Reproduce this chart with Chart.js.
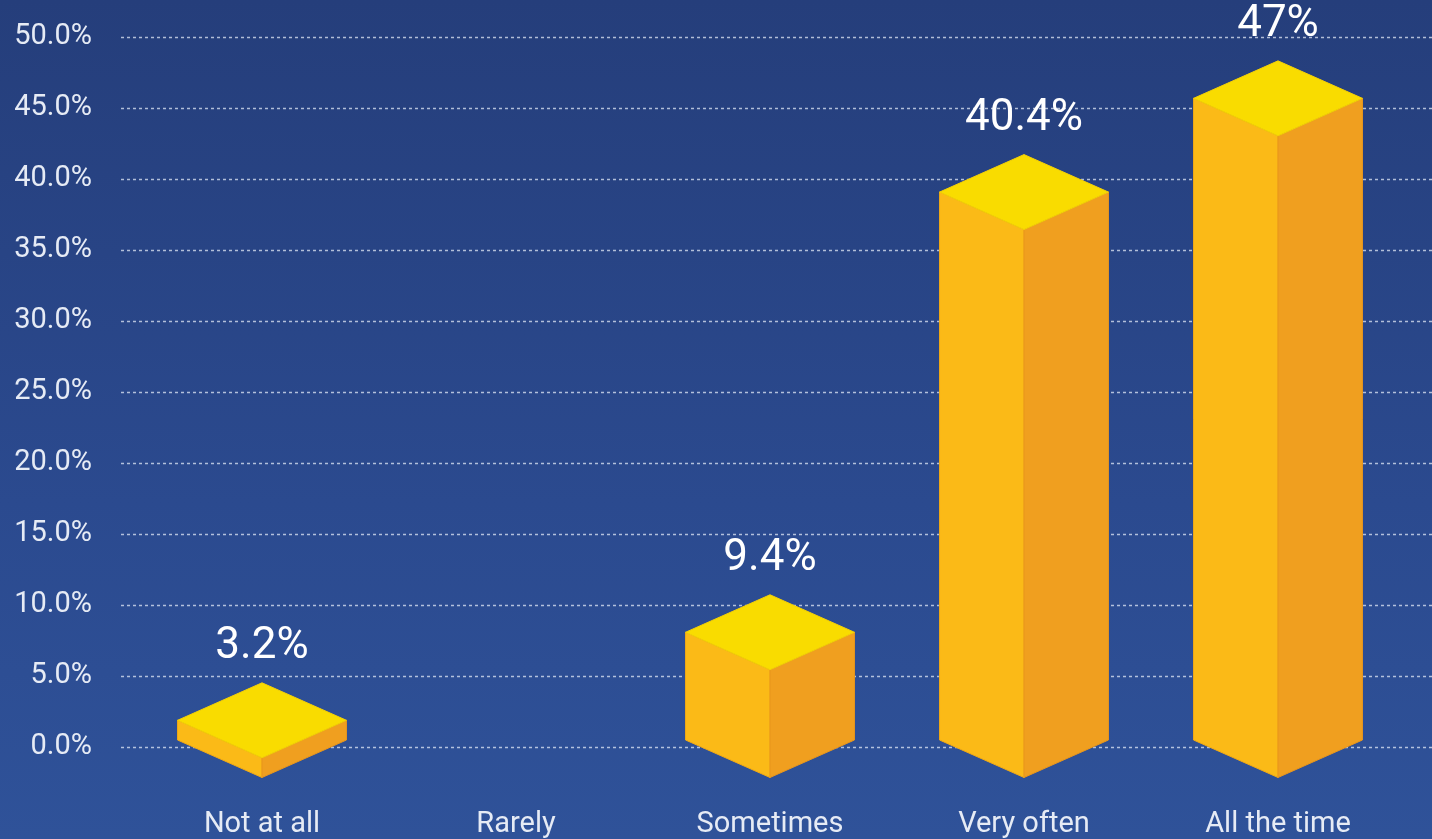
<!DOCTYPE html>
<html>
<head>
<meta charset="utf-8">
<script src="https://cdn.jsdelivr.net/npm/chart.js@4"></script>
<style>
    html, body {
        margin: 0;
        padding: 0;
        width: 1432px;
        height: 839px;
        overflow: hidden;
        background: linear-gradient(to bottom, #253e7b 0%, #2b4a8f 60%, #2f5299 100%);
    }
    canvas { display: block; }
</style>
</head>
<body>
<canvas id="chart" width="1432" height="839"></canvas>
<script>
    /* =============================
       DATA
    ============================== */
    const categories = ["Not at all", "Rarely", "Sometimes", "Very often", "All the time"];
    const shares = [3.2, 0, 9.4, 40.4, 47];

    const yMin = 0;
    const yMax = 50;
    const yStep = 5;

    /* =============================
       COLOURS
    ============================== */
    const topColor = "#f9dc00";
    const leftColor = "#fbba17";
    const rightColor = "#f09f1f";
    const textColor = "#e6ebf5";

    /* =============================
       DASHED GRID (runs past the last bar, to the edge)
    ============================== */
    const dashedGrid = {
        id: "dashedGrid",
        beforeDatasetsDraw(chart) {
            const ctx = chart.ctx;
            const y = chart.scales.y;
            ctx.save();
            ctx.strokeStyle = "rgba(225,232,245,0.75)";
            ctx.lineWidth = 1.5;
            ctx.setLineDash([3, 3]);
            y.ticks.forEach(t => {
                const py = Math.round(y.getPixelForValue(t.value)) + 0.5;
                ctx.beginPath();
                ctx.moveTo(121, py);
                ctx.lineTo(chart.width, py);
                ctx.stroke();
            });
            ctx.restore();
        }
    };

    /* =============================
       ISOMETRIC PRISMS + VALUE LABELS
    ============================== */
    const prisms = {
        id: "prisms",
        afterDatasetsDraw(chart) {
            const ctx = chart.ctx;
            const meta = chart.getDatasetMeta(0);
            ctx.save();
            meta.data.forEach((bar, i) => {
                const v = shares[i];
                if (!v) return;

                const cx = bar.x;
                const w = bar.width / 2;
                const h = w * 0.444;
                const topC = bar.y + h / 2;
                const baseC = bar.base - 7;
                if (topC >= baseC) return;

                ctx.lineJoin = "round";
                ctx.lineWidth = 1;

                // left face
                ctx.beginPath();
                ctx.moveTo(cx - w, topC);
                ctx.lineTo(cx, topC + h);
                ctx.lineTo(cx, baseC + h);
                ctx.lineTo(cx - w, baseC);
                ctx.closePath();
                ctx.fillStyle = leftColor;
                ctx.fill();
                ctx.strokeStyle = "#f2aa14";
                ctx.stroke();

                // right face
                ctx.beginPath();
                ctx.moveTo(cx, topC + h);
                ctx.lineTo(cx + w, topC);
                ctx.lineTo(cx + w, baseC);
                ctx.lineTo(cx, baseC + h);
                ctx.closePath();
                ctx.fillStyle = rightColor;
                ctx.fill();
                ctx.strokeStyle = "#e8961c";
                ctx.stroke();

                // top face
                ctx.beginPath();
                ctx.moveTo(cx, topC - h);
                ctx.lineTo(cx + w, topC);
                ctx.lineTo(cx, topC + h);
                ctx.lineTo(cx - w, topC);
                ctx.closePath();
                ctx.fillStyle = topColor;
                ctx.fill();
                ctx.strokeStyle = "#f3cf06";
                ctx.stroke();

                // value label
                ctx.fillStyle = "#ffffff";
                ctx.font = "44px Roboto";
                ctx.textAlign = "center";
                ctx.textBaseline = "middle";
                ctx.fillText(v + "%", cx, topC - h - 36);
            });
            ctx.restore();
        }
    };

    /* =============================
       CHART
    ============================== */
    new Chart(document.getElementById("chart"), {
        type: "bar",
        data: {
            labels: categories,
            datasets: [{
                data: shares,
                backgroundColor: "rgba(0,0,0,0)",
                borderWidth: 0,
                categoryPercentage: 1,
                barPercentage: 0.665
            }]
        },
        options: {
            responsive: false,
            animation: false,
            devicePixelRatio: 1,
            layout: { padding: { top: 37, right: 27, left: 0, bottom: 0 } },
            plugins: {
                legend: { display: false },
                tooltip: { enabled: false }
            },
            scales: {
                x: {
                    grid: { display: false },
                    border: { display: false },
                    ticks: {
                        color: textColor,
                        font: { family: "Roboto", size: 29 },
                        padding: 52,
                        maxRotation: 0
                    },
                    afterFit: s => { s.height = 92; }
                },
                y: {
                    min: yMin,
                    max: yMax,
                    grid: { display: false },
                    border: { display: false },
                    ticks: {
                        stepSize: yStep,
                        color: textColor,
                        font: { family: "Roboto", size: 29 },
                        padding: 35,
                        callback: v => v.toFixed(1) + "%"
                    },
                    afterFit: s => {
                        s.width = 135;
                        s.paddingTop = 0;
                        s.paddingBottom = 0;
                    }
                }
            }
        },
        plugins: [dashedGrid, prisms]
    });
</script>
</body>
</html>
